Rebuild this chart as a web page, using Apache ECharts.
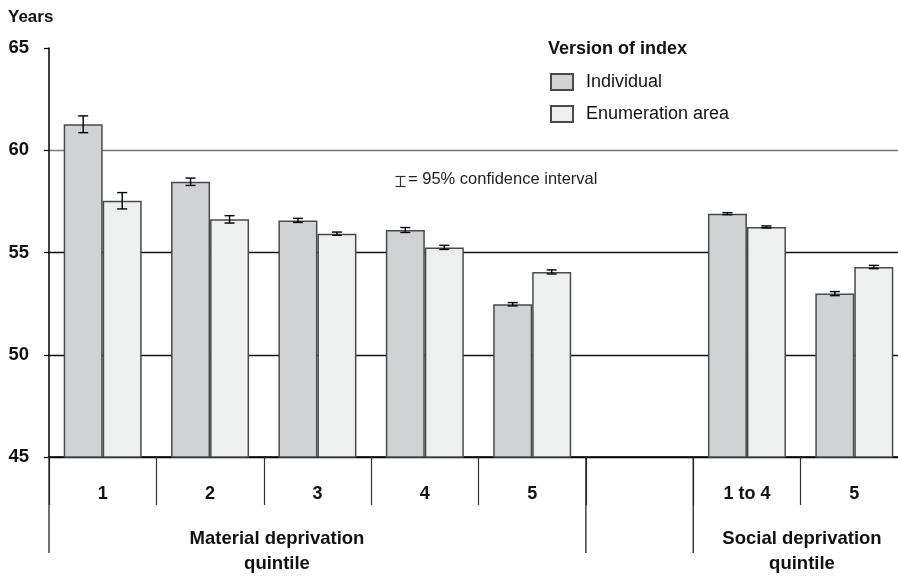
<!DOCTYPE html>
<html>
<head>
<meta charset="utf-8">
<script src="https://cdn.jsdelivr.net/npm/echarts@6/dist/echarts.min.js"></script>
<style>
  html, body { margin: 0; padding: 0; background: #fff; }
  #chart { width: 898px; height: 578px; }
</style>
</head>
<body>
<div id="chart"></div>
<script>
// categories, with an empty slot between the two groups
var categories = ['1', '2', '3', '4', '5', '', '1 to 4', '5'];
// mean values (years)
var individual = [61.27, 58.46, 56.57, 56.10, 52.47, null, 56.90, 52.99];
var enumArea = [57.53, 56.62, 55.92, 55.25, 54.05, null, 56.25, 54.29];
// half width of the 95% confidence interval
var individualCI = [0.41, 0.18, 0.10, 0.12, 0.08, null, 0.05, 0.10];
var enumAreaCI = [0.40, 0.18, 0.08, 0.10, 0.10, null, 0.05, 0.08];
// boundaries that get the long separator lines
var groupBounds = [0, 5, 6];
var yTicks = [45, 50, 55, 60, 65];

var FONT = '"Liberation Sans", Arial, sans-serif';
var BAR_W = 39;

var myChart = echarts.init(document.getElementById('chart'));

function ciData(values, ci) {
    var out = [];
    for (var i = 0; i < values.length; i++) {
        if (values[i] == null) continue;
        out.push([i, values[i] - ci[i], values[i] + ci[i]]);
    }
    return out;
}

function ciRender(offset) {
    return function (params, api) {
        var lo = api.coord([api.value(0), api.value(1)]);
        var hi = api.coord([api.value(0), api.value(2)]);
        var x = lo[0] + offset;
        var cap = 5;
        var style = { stroke: '#000', lineWidth: 1.4 };
        return {
            type: 'group',
            children: [
                { type: 'line', shape: { x1: x, y1: lo[1], x2: x, y2: hi[1] }, style: style },
                { type: 'line', shape: { x1: x - cap, y1: lo[1], x2: x + cap, y2: lo[1] }, style: style },
                { type: 'line', shape: { x1: x - cap, y1: hi[1], x2: x + cap, y2: hi[1] }, style: style }
            ]
        };
    };
}

var sepData = groupBounds.map(function (b) { return [b, 45]; });

option = {
    animation: false,
    textStyle: { fontFamily: FONT },
    grid: { left: 49, top: 48, right: -10, bottom: 121, outerBoundsMode: 'none', containLabel: false },
    legend: {
        orient: 'vertical',
        left: 550,
        top: 73,
        padding: 0,
        itemWidth: 22,
        itemHeight: 16,
        itemGap: 14,
        icon: 'rect',
        data: ['Individual', 'Enumeration area'],
        textStyle: { fontFamily: FONT, fontSize: 18, color: '#111', padding: [0, 0, 0, 8] }
    },
    xAxis: {
        type: 'category',
        data: categories,
        axisLine: { lineStyle: { color: '#000', width: 1.5 } },
        axisTick: { show: true, interval: 0, length: 48, lineStyle: { color: '#333', width: 1.2 } },
        axisLabel: { interval: 0, margin: 28, fontFamily: FONT, fontSize: 18, fontWeight: 'bold', color: '#111' },
        splitLine: { show: false }
    },
    yAxis: {
        type: 'value',
        min: 45,
        max: 65,
        interval: 5,
        axisLine: { show: true, lineStyle: { color: '#000', width: 1.5 } },
        axisTick: { show: true, length: 5, lineStyle: { color: '#000', width: 1.2 } },
        axisLabel: {
            margin: 20,
            fontFamily: FONT, fontSize: 18.5, fontWeight: 'bold', color: '#111',
            formatter: function (v) { return yTicks.indexOf(v) >= 0 ? String(v) : ''; }
        },
        splitLine: {
            show: true,
            lineStyle: { color: ['#000', '#111', '#111', '#777', 'rgba(0,0,0,0)'], width: 1.3 }
        }
    },
    graphic: [
        { type: 'text', left: 8, top: 9, style: { text: 'Years', font: 'bold 17px ' + FONT, fill: '#111' } },
        { type: 'text', left: 548, top: 40, style: { text: 'Version of index', font: 'bold 18px ' + FONT, fill: '#111' } },
        {
            type: 'group', left: 393, top: 174,
            children: [
                { type: 'line', shape: { x1: 0, y1: 0, x2: 10, y2: 0 }, style: { stroke: '#333', lineWidth: 1.2 } },
                { type: 'line', shape: { x1: 5, y1: 0, x2: 5, y2: 10 }, style: { stroke: '#333', lineWidth: 1.2 } },
                { type: 'line', shape: { x1: 0, y1: 10, x2: 10, y2: 10 }, style: { stroke: '#333', lineWidth: 1.2 } }
            ]
        },
        { type: 'text', left: 408, top: 171, style: { text: '= 95% confidence interval', font: '16.5px ' + FONT, fill: '#222' } },
        {
            type: 'text',
            style: { x: 277, y: 526, text: 'Material deprivation\nquintile', font: 'bold 18.5px ' + FONT, fill: '#111', align: 'center', verticalAlign: 'top', lineHeight: 25 }
        },
        {
            type: 'text',
            style: { x: 802, y: 526, text: 'Social deprivation\nquintile', font: 'bold 18.5px ' + FONT, fill: '#111', align: 'center', verticalAlign: 'top', lineHeight: 25 }
        }
    ],
    series: [
        {
            name: 'Individual',
            type: 'bar',
            barWidth: BAR_W,
            barGap: '0%',
            itemStyle: { color: '#d1d2d4', borderColor: '#4a4a4a', borderWidth: 1.5 },
            data: individual
        },
        {
            name: 'Enumeration area',
            type: 'bar',
            barWidth: BAR_W,
            barGap: '0%',
            itemStyle: { color: '#eef0ef', borderColor: '#4a4a4a', borderWidth: 1.5 },
            data: enumArea
        },
        {
            type: 'custom',
            renderItem: ciRender(-BAR_W / 2),
            encode: { x: 0, y: [1, 2] },
            data: ciData(individual, individualCI),
            z: 5
        },
        {
            type: 'custom',
            renderItem: ciRender(BAR_W / 2),
            encode: { x: 0, y: [1, 2] },
            data: ciData(enumArea, enumAreaCI),
            z: 5
        },
        {
            // long separators under the axis
            type: 'custom',
            clip: false,
            renderItem: function (params, api) {
                var p = api.coord([api.value(0), api.value(1)]);
                var band = api.size([1, 0])[0];
                var x = p[0] - band / 2;
                return {
                    type: 'line',
                    shape: { x1: x, y1: p[1], x2: x, y2: p[1] + 96 },
                    style: { stroke: '#222', lineWidth: 1.3 }
                };
            },
            encode: { x: 0, y: 1 },
            data: sepData,
            z: 5
        }
    ]
};

myChart.setOption(option);
</script>
</body>
</html>
